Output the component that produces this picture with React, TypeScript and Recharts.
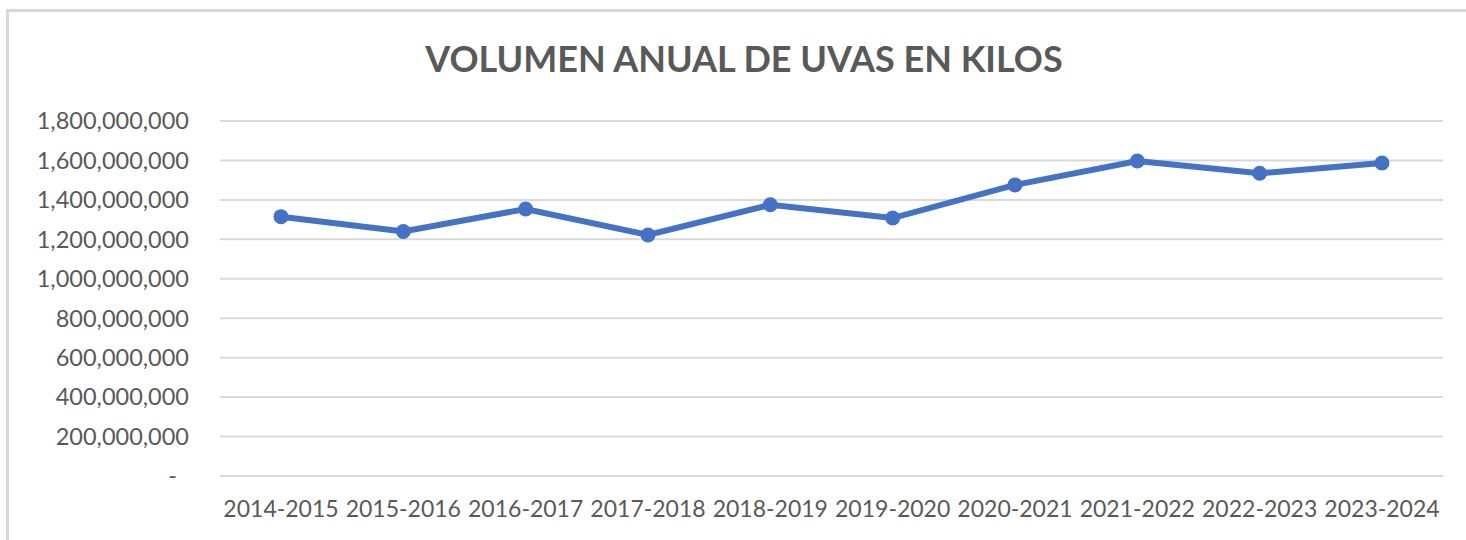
import * as React from "react";
import {
  LineChart,
  Line,
  XAxis,
  YAxis,
  CartesianGrid,
} from "recharts";

const seasons: string[] = [
  "2014-2015",
  "2015-2016",
  "2016-2017",
  "2017-2018",
  "2018-2019",
  "2019-2020",
  "2020-2021",
  "2021-2022",
  "2022-2023",
  "2023-2024",
];

const kilos: number[] = [
  1315000000,
  1240000000,
  1354000000,
  1222000000,
  1375000000,
  1308000000,
  1476000000,
  1597000000,
  1535000000,
  1587000000,
];

const yTicks: number[] = [
  0, 200000000, 400000000, 600000000, 800000000, 1000000000, 1200000000,
  1400000000, 1600000000, 1800000000,
];

const TEXT = "#595959";
const BLUE = "#4472C4";
const GRID = "#D9D9D9";
const FONT = "Lato, 'Open Sans', sans-serif";

// accounting-style zero: a dash with some room after it
function formatKilos(v: number): string {
  return v === 0 ? "-\u00A0\u00A0" : v.toLocaleString("en-US");
}

export default function App(): React.JSX.Element {
  const data = seasons.map((season, i) => ({ season, kilos: kilos[i] }));

  return (
    <div
      style={{
        position: "absolute",
        left: 0,
        top: 0,
        width: 1466,
        height: 540,
        background: "#fff",
        overflow: "hidden",
        fontFamily: FONT,
      }}
    >
      <div
        style={{
          position: "absolute",
          left: 6,
          top: 9,
          width: 1470,
          height: 540,
          borderTop: `3px solid ${GRID}`,
          borderLeft: `3px solid ${GRID}`,
        }}
      />
      <div
        style={{
          position: "absolute",
          left: 0,
          top: 41,
          width: 1488,
          textAlign: "center",
          fontSize: 36,
          lineHeight: "35px",
          fontWeight: 700,
          color: TEXT,
          whiteSpace: "pre",
        }}
      >
        {"VOLUMEN ANUAL DE UVAS EN KILOS"}
      </div>
      <div style={{ position: "absolute", left: 0, top: 0 }}>
        <LineChart
          width={1466}
          height={540}
          data={data}
          margin={{ top: 121, right: 23, left: 0, bottom: 0 }}
        >
          <CartesianGrid vertical={false} stroke={GRID} strokeWidth={2} />
          <XAxis
            dataKey="season"
            height={64}
            padding={{ left: 61, right: 61 }}
            axisLine={false}
            tickLine={false}
            tickSize={0}
            tickMargin={25}
            interval={0}
            tick={{ fill: TEXT, fontSize: 23, fontFamily: FONT }}
          />
          <YAxis
            width={220}
            domain={[0, 1800000000]}
            ticks={yTicks}
            axisLine={false}
            tickLine={false}
            tickSize={0}
            tickMargin={31}
            tickFormatter={formatKilos}
            tick={{ fill: TEXT, fontSize: 23.5, fontFamily: FONT }}
          />
          <Line
            type="linear"
            dataKey="kilos"
            stroke={BLUE}
            strokeWidth={6}
            dot={{ r: 7.5, fill: BLUE, stroke: BLUE, strokeWidth: 0 }}
            activeDot={false}
            isAnimationActive={false}
          />
        </LineChart>
      </div>
    </div>
  );
}
